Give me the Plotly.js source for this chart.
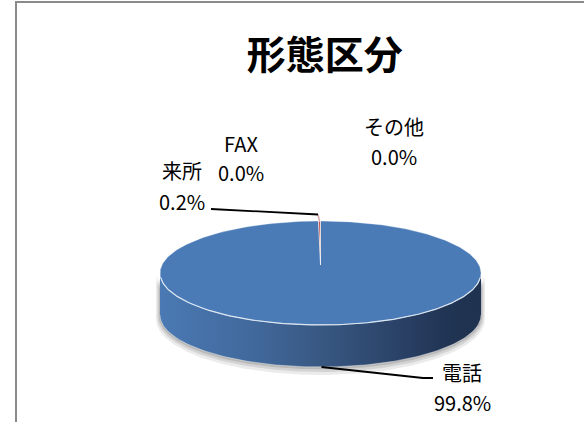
<!DOCTYPE html>
<html><head><meta charset="utf-8">
<script src="https://cdn.plot.ly/plotly-3.0.1.min.js"></script>
<style>html,body{margin:0;padding:0;background:#fff;}#chart{width:584px;height:422px;}</style>
</head><body><div id="chart"></div>
<script>
// ---- data ----
const chartTitle = '形態区分';
const categories = ['電話', '来所', 'FAX', 'その他'];
const percents = [99.8, 0.2, 0.0, 0.0];
const percentLabels = ['99.8%', '0.2%', '0.0%', '0.0%'];

// ---- styling / layout constants ----
const sliceColors = ['#4a7bb7', '#c0504d', '#9bbb59', '#8064a2'];
const W = 584, H = 422;
const cx = 320.5, cy = 273, rx = 160.5, ry = 52, depth = 42, apexDy = -8;
// label anchor: x, name-line y, percent-line y
const labelPos = [[462, 372, 402], [182, 170, 201], [241, 143, 172], [394, 126, 156]];
// leader line bends (label side)
const leaderBends = [[[423, 378], [433, 378]], [[318, 214.5], [211, 209]], null, null];

function pt(deg, dy, ex) {
  const t = deg * Math.PI / 180; ex = ex || 0;
  return [cx + (rx + ex) * Math.sin(t), cy - (ry + ex) * Math.cos(t) + (dy || 0)];
}
function arc(a0, a1, dy, ex) {
  const n = Math.max(2, Math.ceil(Math.abs(a1 - a0)));
  const out = [];
  for (let i = 0; i <= n; i++) out.push(pt(a0 + (a1 - a0) * i / n, dy, ex));
  return out;
}
const traces = [];
function poly(points, opts) {
  traces.push(Object.assign({
    type: 'scatter', mode: 'lines', x: points.map(p => p[0]), y: points.map(p => p[1]),
    hoverinfo: 'skip', showlegend: false
  }, opts));
}
// shadow under the cylinder
[[4, 0.08], [2.5, 0.10], [1.2, 0.12]].forEach(([e, a]) => {
  const pts = arc(90, 270, 3, e).concat(arc(270, 90, depth + e, e));
  pts.push(pts[0]);
  poly(pts, {fill: 'toself', fillcolor: 'rgba(0,0,0,' + a + ')', line: {width: 0}});
});
// side wall (front half)
const total = percents.reduce((a, b) => a + b, 0);
{
  const pts = arc(90, 270, 0).concat(arc(270, 90, depth));
  pts.push(pts[0]);
  poly(pts, {
    fill: 'toself', line: {width: 0},
    fillgradient: {type: 'horizontal', colorscale: [
      [0, '#4a79b3'], [0.3, '#41689b'], [0.5, '#385882'], [0.75, '#2a4166'], [0.9, '#203453'], [1, '#1f324f']]}
  });
  poly(arc(90, 270, depth), {line: {color: 'rgba(255,255,255,0.35)', width: 1}});
}
// top-face slices
let acc = 0;
const mids = [];
percents.forEach((v, i) => {
  const a0 = acc / total * 360, a1 = (acc + v) / total * 360;
  mids.push((a0 + a1) / 2);
  acc += v;
  if (v <= 0) return;
  const apex = [cx, cy + apexDy];
  const pts = [apex].concat(arc(a0, a1, 0)); pts.push(apex);
  poly(pts, {fill: 'toself', fillcolor: sliceColors[i],
    line: {color: i === 0 ? sliceColors[0] : 'rgba(255,255,255,0.85)', width: i === 0 ? 0 : 0.8}});
});
// rim highlight
poly(arc(0, 360, 0), {line: {color: 'rgba(255,255,255,0.35)', width: 1}});
poly(arc(95, 265, 0), {line: {color: 'rgba(225,235,245,0.9)', width: 1.2}});

// leader lines + labels
const annotations = [];
categories.forEach((c, i) => {
  if (leaderBends[i]) {
    const onBottom = mids[i] > 90 && mids[i] < 270;
    const start = pt(mids[i], onBottom ? depth : 0);
    if (!onBottom) {
      poly([start, leaderBends[i][0]], {line: {color: '#d8a8a8', width: 1.5}});
      poly(leaderBends[i], {line: {color: '#000', width: 1.8}});
    } else {
      poly([start].concat(leaderBends[i]), {line: {color: '#000', width: 1.8}});
    }
  }
  const [lx, ny, py] = labelPos[i];
  annotations.push({x: lx, y: ny, xref: 'x', yref: 'y', text: c, showarrow: false,
    font: {family: 'Noto Sans CJK JP', size: 20, color: '#000'}, xanchor: 'center', yanchor: 'middle'});
  annotations.push({x: lx, y: py, xref: 'x', yref: 'y', text: percentLabels[i], showarrow: false,
    font: {family: 'Noto Sans CJK JP', size: 20, color: '#000'}, xanchor: 'center', yanchor: 'middle'});
});

const layout = {
  width: W, height: H, autosize: false,
  margin: {l: 0, r: 0, t: 0, b: 0, pad: 0},
  paper_bgcolor: '#fff', plot_bgcolor: '#fff',
  xaxis: {range: [0, W], visible: false, fixedrange: true},
  yaxis: {range: [H, 0], visible: false, fixedrange: true},
  title: {text: '<b>' + chartTitle + '</b>', x: 0.556, xanchor: 'center', y: 0.87, yanchor: 'middle',
    yref: 'container', font: {family: 'Noto Sans CJK JP', size: 39, color: '#000'}},
  shapes: [{type: 'rect', xref: 'x', yref: 'y', x0: 16, y0: 2, x1: W + 20, y1: H + 20,
    line: {color: '#8a8a8a', width: 2}, fillcolor: 'rgba(0,0,0,0)'}],
  annotations: annotations,
  showlegend: false
};
Plotly.newPlot('chart', traces, layout, {staticPlot: true, displayModeBar: false});
</script></body></html>
